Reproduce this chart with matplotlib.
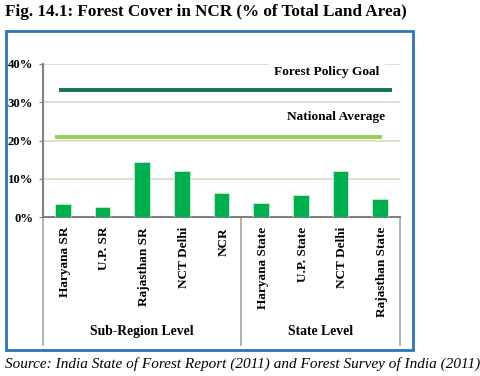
import numpy as np
import matplotlib
matplotlib.use("Agg")
import matplotlib.pyplot as plt
import matplotlib.transforms as mtrans
from matplotlib.patches import Rectangle

# Data
categories = ["Haryana SR", "U.P. SR", "Rajasthan SR", "NCT Delhi", "NCR",
              "Haryana State", "U.P. State", "NCT Delhi", "Rajasthan State"]
forest_cover = [3.5, 2.5, 14.3, 11.9, 6.2, 3.6, 5.8, 11.9, 4.7]
policy_goal = 33.3
national_avg = 21.0
groups = ["Sub-Region Level", "State Level"]
group_sizes = [5, 4]

plt.rcParams['font.family'] = ['Liberation Serif', 'DejaVu Serif']

W, H = 481, 376
fig = plt.figure(figsize=(W / 100, H / 100), dpi=100)

def fx(px):
    return px / W

def fy(py):
    return 1 - py / H

# axes box in pixels: x 43..400, y 64 (40%) .. 217 (0%)
ax = fig.add_axes([fx(43), fy(217), fx(400) - fx(43), fy(64) - fy(217)])

x = np.arange(len(categories))
ax.bar(x, forest_cover, width=0.4, color="#00B050", edgecolor="#C6EFCE", linewidth=0.6, zorder=3)

ax.set_xlim(-0.5, len(categories) - 0.5)
ax.set_ylim(0, 40)
ax.set_yticks([0, 10, 20, 30, 40])
ax.set_yticklabels([f"{v}%" for v in [0, 10, 20, 30, 40]], fontsize=9.2, fontweight="bold")
ax.yaxis.grid(True, color="#DDD9C3", linewidth=1.2, zorder=0)
ax.set_axisbelow(True)
ax.tick_params(axis="y", length=3, color="#808080", pad=4)
ax.set_xticks([])
for s in ["top", "right"]:
    ax.spines[s].set_visible(False)
for s in ["left", "bottom"]:
    ax.spines[s].set_color("#808080")
    ax.spines[s].set_linewidth(1.5)

# reference lines
ax.plot([-0.1, 8.3], [policy_goal, policy_goal], color="#17705A", lw=2.8, solid_capstyle="butt", zorder=4)
ax.plot([-0.2, 8.05], [national_avg, national_avg], color="#92D050", lw=2.8, solid_capstyle="butt", zorder=4)
ax.text(6.66, 37.9, "Forest Policy Goal", ha="center", va="center", fontsize=9.6, fontweight="bold",
        bbox=dict(facecolor="white", edgecolor="none", pad=4), zorder=5)
ax.text(6.89, 26.1, "National Average", ha="center", va="center", fontsize=9.6, fontweight="bold", zorder=5)

# category labels
trans_lbl = mtrans.blended_transform_factory(ax.transData, ax.transAxes)
for xi, lab in zip(x, categories):
    ax.text(xi + 0.05, -0.065, lab, rotation=90, ha="center", va="top", fontsize=9.5,
            fontweight="bold", transform=trans_lbl)

# group separators and labels
bottom = -(345 - 217) / (217 - 64)
edges = np.concatenate([[0], np.cumsum(group_sizes)]) - 0.5
for e in edges:
    ax.plot([e, e], [0, bottom], color="#A6A6A6", lw=1.2, transform=trans_lbl, clip_on=False)
for g, a, b in zip(groups, edges[:-1], edges[1:]):
    ax.text((a + b) / 2, bottom + 0.085, g, ha="center", va="center", fontsize=9.8,
            fontweight="bold", transform=trans_lbl)

# outer frame
fig.patches.append(Rectangle((fx(6), fy(350)), fx(413) - fx(6), fy(31) - fy(350),
                             transform=fig.transFigure, fill=False, edgecolor="#2E75B6", lw=2))

fig.text(fx(5), fy(12), "Fig. 14.1: Forest Cover in NCR (% of Total Land Area)",
         ha="left", va="center", fontsize=12.3, fontweight="bold")
fig.text(fx(5), fy(364), "Source: India State of Forest Report (2011) and Forest Survey of India (2011)",
         ha="left", va="center", fontsize=11, style="italic")

fig.savefig("out.png", dpi=100)
